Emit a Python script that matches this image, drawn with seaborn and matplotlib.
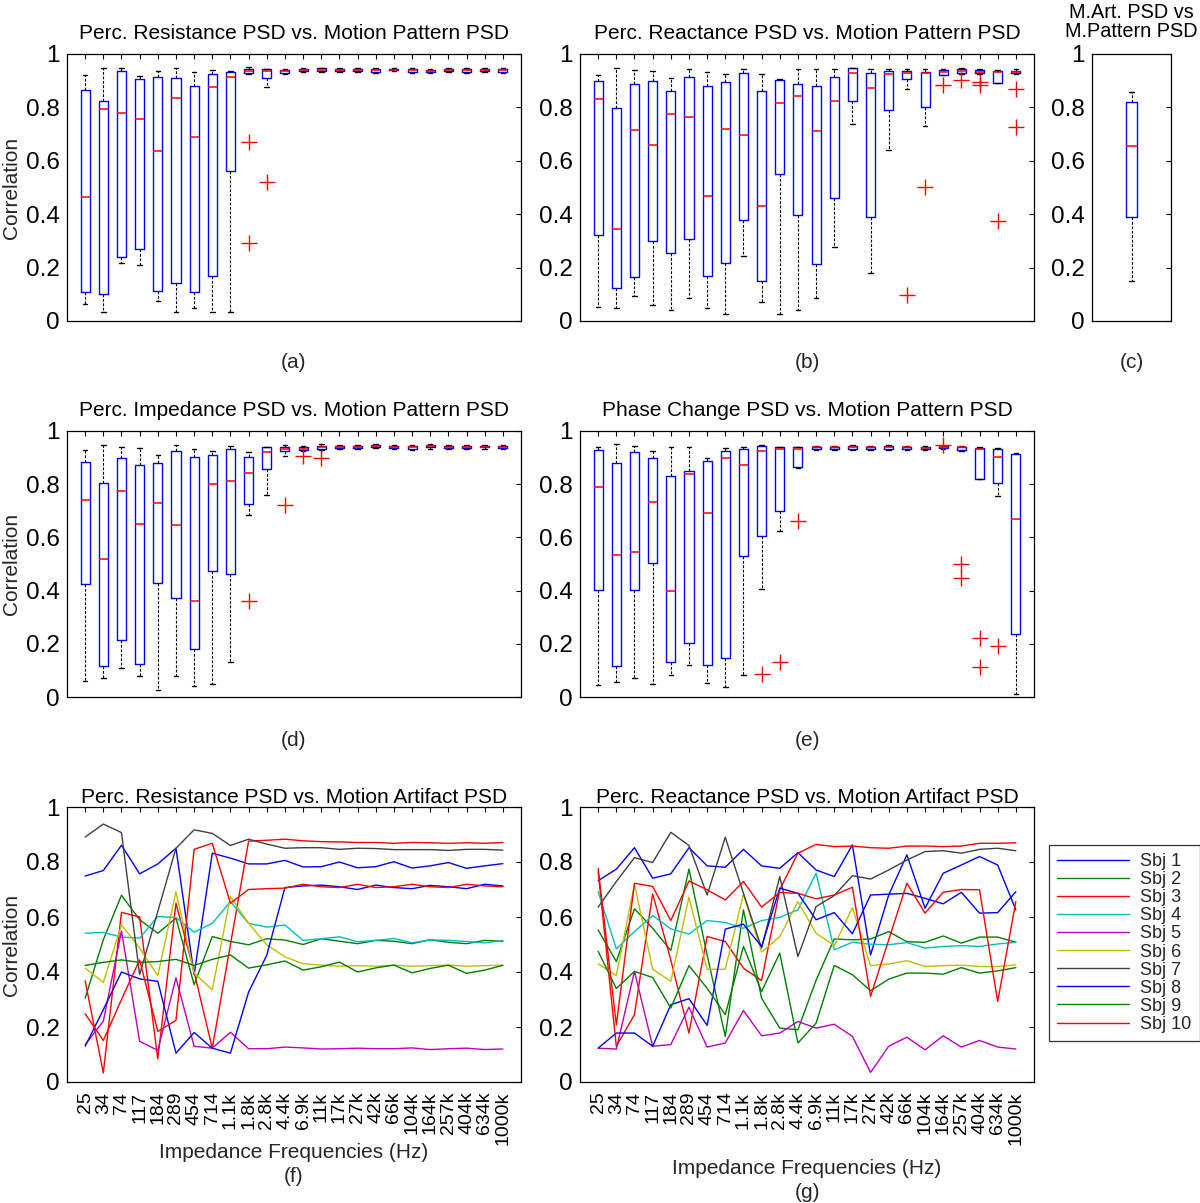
import numpy as np
import pandas as pd
import matplotlib
matplotlib.use('Agg')
import matplotlib.pyplot as plt
import seaborn as sns

# x axis: impedance frequencies
FREQ_LABELS = ['25', '34', '74', '117', '184', '289', '454', '714', '1.1k', '1.8k', '2.8k', '4.4k',
               '6.9k', '11k', '17k', '27k', '42k', '66k', '104k', '164k', '257k', '404k', '634k', '1000k']
SUBJECTS = ['Sbj %d' % i for i in range(1, 11)]
SUBJ_COLORS = ['#0000ff', '#008000', '#ff0000', '#00bfbf', '#bf00bf',
               '#bfbf00', '#404040', '#0000ff', '#008000', '#ff0000']

# (a) Perc. Resistance PSD vs. Motion Pattern PSD  (box statistics per frequency)
A_Q1 = [0.109, 0.101, 0.238, 0.271, 0.111, 0.144, 0.110, 0.168, 0.560, 0.928, 0.911, 0.927,
        0.935, 0.938, 0.938, 0.935, 0.934, 0.939, 0.934, 0.933, 0.938, 0.934, 0.935, 0.934]
A_MED = [0.463, 0.793, 0.780, 0.758, 0.638, 0.836, 0.689, 0.875, 0.915, 0.935, 0.938, 0.936,
         0.939, 0.941, 0.941, 0.939, 0.939, 0.941, 0.939, 0.938, 0.941, 0.939, 0.939, 0.939]
A_Q3 = [0.864, 0.823, 0.935, 0.905, 0.913, 0.909, 0.881, 0.926, 0.933, 0.943, 0.943, 0.941,
        0.945, 0.946, 0.945, 0.943, 0.943, 0.945, 0.943, 0.941, 0.945, 0.943, 0.943, 0.943]
A_LO = [0.063, 0.034, 0.219, 0.210, 0.075, 0.034, 0.050, 0.034, 0.034, 0.925, 0.878, 0.925,
        0.931, 0.934, 0.934, 0.931, 0.930, 0.935, 0.930, 0.929, 0.934, 0.930, 0.931, 0.930]
A_HI = [0.920, 0.946, 0.948, 0.919, 0.936, 0.946, 0.933, 0.939, 0.936, 0.953, 0.943, 0.943,
        0.948, 0.949, 0.948, 0.946, 0.946, 0.948, 0.946, 0.944, 0.948, 0.946, 0.946, 0.946]
A_OUT = {9: [0.671, 0.293], 10: [0.521]}

# (b) Perc. Reactance PSD vs. Motion Pattern PSD
B_Q1 = [0.323, 0.123, 0.165, 0.299, 0.256, 0.306, 0.170, 0.216, 0.379, 0.149, 0.550, 0.396,
        0.213, 0.461, 0.823, 0.389, 0.789, 0.905, 0.800, 0.923, 0.928, 0.928, 0.890, 0.928]
B_MED = [0.830, 0.344, 0.716, 0.661, 0.775, 0.763, 0.470, 0.719, 0.695, 0.431, 0.816, 0.841,
         0.711, 0.825, 0.928, 0.874, 0.925, 0.930, 0.930, 0.933, 0.935, 0.934, 0.934, 0.934]
B_Q3 = [0.899, 0.799, 0.886, 0.898, 0.861, 0.915, 0.881, 0.896, 0.930, 0.860, 0.901, 0.889,
        0.881, 0.914, 0.946, 0.928, 0.938, 0.935, 0.933, 0.940, 0.944, 0.940, 0.938, 0.938]
B_LO = [0.053, 0.049, 0.093, 0.059, 0.043, 0.088, 0.048, 0.025, 0.244, 0.073, 0.025, 0.040,
        0.086, 0.278, 0.738, 0.180, 0.640, 0.870, 0.730, 0.920, 0.925, 0.925, 0.890, 0.925]
B_HI = [0.921, 0.949, 0.941, 0.935, 0.910, 0.944, 0.933, 0.925, 0.945, 0.925, 0.905, 0.944,
        0.943, 0.944, 0.949, 0.943, 0.943, 0.943, 0.943, 0.944, 0.949, 0.944, 0.940, 0.943]
B_OUT = {17: [0.096], 18: [0.500], 19: [0.884], 20: [0.903], 21: [0.896, 0.884],
         22: [0.375], 23: [0.869, 0.728]}

# (c) M.Art. PSD vs M.Pattern PSD
C_Q1, C_MED, C_Q3, C_LO, C_HI = [0.390], [0.655], [0.821], [0.148], [0.858]

# (d) Perc. Impedance PSD vs. Motion Pattern PSD
D_Q1 = [0.426, 0.116, 0.214, 0.125, 0.428, 0.371, 0.179, 0.474, 0.464, 0.726, 0.858, 0.923,
        0.928, 0.933, 0.935, 0.935, 0.940, 0.935, 0.933, 0.938, 0.935, 0.935, 0.938, 0.935]
D_MED = [0.739, 0.518, 0.776, 0.650, 0.729, 0.646, 0.360, 0.801, 0.813, 0.843, 0.921, 0.931,
         0.934, 0.939, 0.940, 0.940, 0.944, 0.940, 0.939, 0.943, 0.940, 0.940, 0.941, 0.940]
D_Q3 = [0.885, 0.805, 0.898, 0.874, 0.878, 0.925, 0.903, 0.910, 0.933, 0.903, 0.938, 0.940,
        0.939, 0.945, 0.943, 0.943, 0.948, 0.945, 0.943, 0.948, 0.943, 0.943, 0.945, 0.943]
D_LO = [0.059, 0.071, 0.110, 0.080, 0.028, 0.079, 0.040, 0.049, 0.131, 0.684, 0.761, 0.906,
        0.923, 0.928, 0.931, 0.931, 0.936, 0.931, 0.929, 0.934, 0.931, 0.931, 0.934, 0.931]
D_HI = [0.929, 0.946, 0.940, 0.936, 0.911, 0.946, 0.933, 0.923, 0.945, 0.921, 0.940, 0.948,
        0.945, 0.950, 0.946, 0.946, 0.951, 0.948, 0.946, 0.951, 0.946, 0.946, 0.948, 0.946]
D_OUT = {9: [0.361], 11: [0.720], 12: [0.905], 13: [0.900]}

# (e) Phase Change PSD vs. Motion Pattern PSD
E_Q1 = [0.401, 0.115, 0.401, 0.504, 0.133, 0.204, 0.120, 0.148, 0.529, 0.605, 0.700, 0.863,
        0.934, 0.934, 0.934, 0.934, 0.934, 0.934, 0.934, 0.935, 0.930, 0.818, 0.806, 0.238]
E_MED = [0.790, 0.533, 0.546, 0.733, 0.399, 0.840, 0.693, 0.899, 0.871, 0.925, 0.933, 0.934,
         0.938, 0.938, 0.939, 0.938, 0.939, 0.938, 0.937, 0.938, 0.938, 0.931, 0.903, 0.670]
E_Q3 = [0.928, 0.881, 0.920, 0.900, 0.829, 0.850, 0.888, 0.925, 0.934, 0.943, 0.939, 0.940,
        0.941, 0.941, 0.942, 0.941, 0.942, 0.941, 0.940, 0.943, 0.940, 0.936, 0.931, 0.915]
E_LO = [0.046, 0.056, 0.070, 0.049, 0.081, 0.119, 0.053, 0.038, 0.084, 0.406, 0.625, 0.860,
        0.930, 0.930, 0.930, 0.930, 0.930, 0.930, 0.930, 0.931, 0.925, 0.818, 0.755, 0.013]
E_HI = [0.938, 0.950, 0.943, 0.925, 0.938, 0.940, 0.900, 0.936, 0.940, 0.948, 0.940, 0.941,
        0.945, 0.945, 0.946, 0.945, 0.946, 0.945, 0.944, 0.945, 0.944, 0.940, 0.935, 0.918]
E_OUT = {9: [0.088], 10: [0.131], 11: [0.663], 19: [0.947], 20: [0.500, 0.449],
         21: [0.223, 0.113], 22: [0.190]}

# (f) Perc. Resistance PSD vs. Motion Artifact PSD, one list per subject
F_VALUES = [
    [0.749, 0.769, 0.861, 0.757, 0.793, 0.850, 0.390, 0.832, 0.814, 0.793, 0.793, 0.806,
     0.782, 0.783, 0.800, 0.779, 0.783, 0.801, 0.778, 0.786, 0.798, 0.777, 0.786, 0.794],
    [0.305, 0.517, 0.679, 0.590, 0.541, 0.596, 0.354, 0.529, 0.511, 0.499, 0.521, 0.516,
     0.500, 0.521, 0.512, 0.503, 0.515, 0.512, 0.503, 0.517, 0.508, 0.503, 0.515, 0.512],
    [0.368, 0.033, 0.617, 0.600, 0.084, 0.650, 0.400, 0.123, 0.500, 0.876, 0.879, 0.883,
     0.877, 0.874, 0.873, 0.871, 0.871, 0.868, 0.871, 0.870, 0.868, 0.870, 0.868, 0.871],
    [0.541, 0.544, 0.527, 0.523, 0.602, 0.598, 0.545, 0.577, 0.656, 0.577, 0.563, 0.571,
     0.515, 0.521, 0.528, 0.510, 0.515, 0.522, 0.506, 0.517, 0.515, 0.511, 0.506, 0.515],
    [0.136, 0.221, 0.549, 0.148, 0.115, 0.379, 0.130, 0.123, 0.181, 0.121, 0.121, 0.127,
     0.124, 0.120, 0.121, 0.123, 0.121, 0.121, 0.124, 0.118, 0.121, 0.123, 0.118, 0.120],
    [0.414, 0.362, 0.571, 0.487, 0.387, 0.692, 0.396, 0.335, 0.674, 0.577, 0.499, 0.455,
     0.430, 0.425, 0.421, 0.423, 0.421, 0.425, 0.421, 0.423, 0.425, 0.421, 0.423, 0.425],
    [0.891, 0.938, 0.907, 0.391, 0.620, 0.850, 0.917, 0.904, 0.860, 0.883, 0.865, 0.850,
     0.852, 0.852, 0.846, 0.850, 0.849, 0.845, 0.845, 0.845, 0.842, 0.846, 0.846, 0.843],
    [0.130, 0.263, 0.400, 0.375, 0.366, 0.105, 0.180, 0.123, 0.105, 0.327, 0.461, 0.707,
     0.713, 0.716, 0.710, 0.700, 0.716, 0.707, 0.703, 0.715, 0.710, 0.703, 0.719, 0.713],
    [0.424, 0.435, 0.444, 0.435, 0.438, 0.446, 0.424, 0.446, 0.462, 0.414, 0.426, 0.440,
     0.407, 0.419, 0.436, 0.400, 0.415, 0.425, 0.397, 0.413, 0.425, 0.395, 0.407, 0.424],
    [0.248, 0.151, 0.300, 0.444, 0.184, 0.224, 0.846, 0.868, 0.650, 0.700, 0.703, 0.705,
     0.719, 0.710, 0.707, 0.719, 0.707, 0.710, 0.719, 0.710, 0.707, 0.719, 0.713, 0.710],
]

# (g) Perc. Reactance PSD vs. Motion Artifact PSD, one list per subject
G_VALUES = [
    [0.732, 0.774, 0.852, 0.741, 0.757, 0.852, 0.786, 0.781, 0.846, 0.786, 0.777, 0.834,
     0.771, 0.747, 0.862, 0.462, 0.680, 0.826, 0.632, 0.759, 0.789, 0.820, 0.789, 0.626],
    [0.553, 0.438, 0.630, 0.559, 0.478, 0.774, 0.462, 0.166, 0.626, 0.305, 0.196, 0.190,
     0.370, 0.520, 0.517, 0.520, 0.547, 0.510, 0.508, 0.531, 0.505, 0.527, 0.527, 0.508],
    [0.765, 0.130, 0.245, 0.684, 0.444, 0.178, 0.529, 0.511, 0.414, 0.369, 0.699, 0.832,
     0.864, 0.856, 0.858, 0.852, 0.850, 0.858, 0.858, 0.856, 0.858, 0.868, 0.868, 0.870],
    [0.692, 0.484, 0.547, 0.605, 0.557, 0.538, 0.587, 0.580, 0.559, 0.587, 0.599, 0.626,
     0.759, 0.481, 0.508, 0.501, 0.499, 0.507, 0.487, 0.493, 0.496, 0.493, 0.502, 0.508],
    [0.123, 0.120, 0.402, 0.130, 0.136, 0.272, 0.127, 0.142, 0.260, 0.168, 0.178, 0.220,
     0.196, 0.210, 0.166, 0.035, 0.130, 0.163, 0.117, 0.168, 0.127, 0.151, 0.127, 0.120],
    [0.430, 0.387, 0.719, 0.410, 0.366, 0.672, 0.410, 0.410, 0.683, 0.472, 0.529, 0.656,
     0.541, 0.496, 0.634, 0.423, 0.429, 0.441, 0.420, 0.423, 0.425, 0.420, 0.420, 0.426],
    [0.636, 0.729, 0.816, 0.798, 0.908, 0.860, 0.680, 0.890, 0.686, 0.487, 0.747, 0.456,
     0.638, 0.678, 0.750, 0.738, 0.771, 0.807, 0.838, 0.841, 0.832, 0.846, 0.850, 0.841],
    [0.123, 0.178, 0.178, 0.130, 0.281, 0.303, 0.206, 0.556, 0.574, 0.493, 0.705, 0.686,
     0.590, 0.616, 0.539, 0.680, 0.683, 0.686, 0.668, 0.648, 0.690, 0.614, 0.616, 0.692],
    [0.475, 0.340, 0.402, 0.380, 0.269, 0.423, 0.341, 0.245, 0.493, 0.329, 0.469, 0.142,
     0.214, 0.424, 0.390, 0.332, 0.374, 0.396, 0.396, 0.392, 0.416, 0.396, 0.404, 0.416],
    [0.777, 0.208, 0.723, 0.711, 0.587, 0.731, 0.699, 0.662, 0.729, 0.636, 0.689, 0.686,
     0.666, 0.680, 0.708, 0.311, 0.517, 0.723, 0.614, 0.690, 0.700, 0.699, 0.293, 0.656],
]

sns.set_theme(style='white')
plt.rcParams['font.family'] = ['Liberation Sans', 'DejaVu Sans']
plt.rcParams['axes.edgecolor'] = 'black'
plt.rcParams['axes.linewidth'] = 0.9

W, H = 1200, 1203


def box_stats(q1, med, q3, lo, hi, out):
    stats = []
    for i, (a, b, c, d, e) in enumerate(zip(q1, med, q3, lo, hi)):
        stats.append(dict(q1=a, med=b, q3=c, whislo=d, whishi=e,
                          fliers=np.array(out.get(i, []), dtype=float)))
    return stats


def add_axes(fig, left, top, right, bottom):
    # pixel box -> figure fraction
    return fig.add_axes([left / W, 1 - bottom / H, (right - left) / W, (bottom - top) / H])


def style_axes(ax):
    ax.set_ylim(0, 1)
    ax.set_yticks([0, 0.2, 0.4, 0.6, 0.8, 1.0])
    ax.set_yticklabels(['0', '0.2', '0.4', '0.6', '0.8', '1'])
    ax.tick_params(axis='both', direction='in', top=True, right=True, length=3.5, width=0.8,
                   color='black', labelcolor='black')
    ax.tick_params(axis='y', labelsize=17.5, pad=5)
    for s in ax.spines.values():
        s.set_visible(True)
        s.set_color('black')
        s.set_linewidth(0.9)


def draw_boxes(ax, stats, positions, width, capwidth):
    ax.bxp(stats, positions=positions, widths=width, capwidths=capwidth, showfliers=True,
           manage_ticks=False,
           boxprops=dict(color='#0000ff', linewidth=1.0),
           medianprops=dict(color='#ff0000', linewidth=1.1),
           whiskerprops=dict(color='black', linewidth=0.8, linestyle=(0, (2.5, 1.5))),
           capprops=dict(color='black', linewidth=1.0),
           flierprops=dict(marker='+', markeredgecolor='#ff0000', markersize=12,
                           markeredgewidth=1.0, linestyle='none'))


fig = plt.figure(figsize=(12, 12.03), dpi=100)
pos = np.arange(1, len(FREQ_LABELS) + 1)
title_kw = dict(fontsize=15, color='black')
TXT = 15

box_panels = [
    ((67, 54, 521, 321), 'Perc. Resistance PSD vs. Motion Pattern PSD', (A_Q1, A_MED, A_Q3, A_LO, A_HI, A_OUT), '(a)', 362),
    ((580, 54, 1034, 321), 'Perc. Reactance PSD vs. Motion Pattern PSD', (B_Q1, B_MED, B_Q3, B_LO, B_HI, B_OUT), '(b)', 362),
    ((67, 431, 521, 697), 'Perc. Impedance PSD vs. Motion Pattern PSD', (D_Q1, D_MED, D_Q3, D_LO, D_HI, D_OUT), '(d)', 740),
    ((580, 431, 1034, 697), 'Phase Change PSD vs. Motion Pattern PSD', (E_Q1, E_MED, E_Q3, E_LO, E_HI, E_OUT), '(e)', 740),
]

for rect, title, data, tag, tag_y in box_panels:
    ax = add_axes(fig, *rect)
    draw_boxes(ax, box_stats(*data), pos, 0.5, 0.25)
    style_axes(ax)
    ax.set_xlim(0, 25)
    ax.set_xticks(pos)
    ax.set_xticklabels([])
    ax.set_title(title, pad=10.5, **title_kw)
    fig.text((rect[0] + rect[2]) / 2 / W, 1 - tag_y / H, tag, ha='center', va='center', fontsize=TXT)

# (c) single box
ax_c = add_axes(fig, 1092, 54, 1171, 321)
draw_boxes(ax_c, box_stats(C_Q1, C_MED, C_Q3, C_LO, C_HI, {}), [1], 0.15, 0.07)
style_axes(ax_c)
ax_c.set_xlim(0.5, 1.5)
ax_c.set_xticks([])
ax_c.set_title('M.Art. PSD vs\nM.Pattern PSD', pad=12, linespacing=1.05, fontsize=14.3, color='black')
fig.text(1131.5 / W, 1 - 362 / H, '(c)', ha='center', va='center', fontsize=TXT)

# (f), (g) line plots per subject
palette = dict(zip(SUBJECTS, SUBJ_COLORS))
line_panels = [
    ((67, 807, 521, 1082), 'Perc. Resistance PSD vs. Motion Artifact PSD', F_VALUES, '(f)', 1152, 1177),
    ((580, 807, 1034, 1082), 'Perc. Reactance PSD vs. Motion Artifact PSD', G_VALUES, '(g)', 1168, 1192),
]
line_axes = []
for rect, title, values, tag, xl_y, tag_y in line_panels:
    ax = add_axes(fig, *rect)
    df = pd.DataFrame({
        'subject': np.repeat(SUBJECTS, len(pos)),
        'pos': np.tile(pos, len(SUBJECTS)),
        'corr': np.concatenate(values),
    })
    sns.lineplot(data=df, x='pos', y='corr', hue='subject', hue_order=SUBJECTS, palette=palette,
                 linewidth=1.0, legend=False, errorbar=None, ax=ax)
    style_axes(ax)
    ax.set_xlim(0, 25)
    ax.set_xticks(pos)
    ax.set_xticklabels(FREQ_LABELS, rotation=90, fontsize=14)
    ax.tick_params(axis='x', pad=7)
    ax.set_xlabel('')
    ax.set_ylabel('')
    ax.set_title(title, pad=3, **title_kw)
    cx = (rect[0] + rect[2]) / 2 / W
    fig.text(cx, 1 - xl_y / H, 'Impedance Frequencies (Hz)', ha='center', va='center', fontsize=TXT)
    fig.text(cx, 1 - tag_y / H, tag, ha='center', va='center', fontsize=TXT)
    line_axes.append(ax)

# shared y labels
for yc in [(54 + 321) / 2, (431 + 697) / 2, (807 + 1082) / 2]:
    fig.text(12 / W, 1 - yc / H, 'Correlation', rotation=90, ha='center', va='center', fontsize=TXT)

handles = line_axes[0].get_lines()[:len(SUBJECTS)]
leg = fig.legend(handles, SUBJECTS, loc='upper left', bbox_to_anchor=(1049 / W, 1 - 845 / H),
                 borderaxespad=0, frameon=True, fancybox=False, edgecolor='black', fontsize=13,
                 handlelength=4.0, handletextpad=0.6, labelspacing=0.06, borderpad=0.45)
leg.get_frame().set_linewidth(0.9)

fig.savefig('out.png', dpi=100, facecolor='white')
